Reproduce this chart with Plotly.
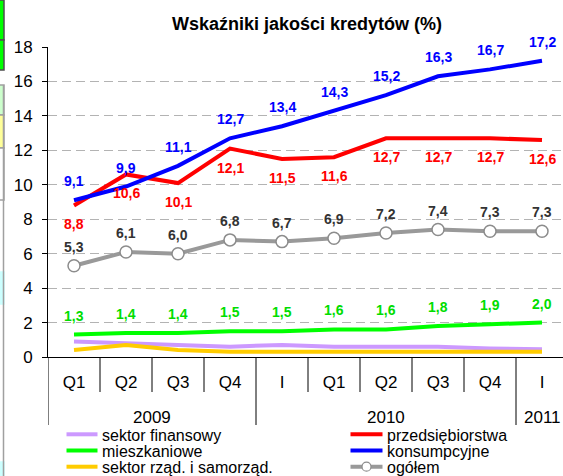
import plotly.graph_objects as go

# ---- data -------------------------------------------------------------
periods = ["Q1", "Q2", "Q3", "Q4", "I", "Q1", "Q2", "Q3", "Q4", "I"]
years = ["2009", "2010", "2011"]
year_spans = [(0, 3), (4, 8), (9, 9)]          # first / last period index of each year

sektor_finansowy = [0.9, 0.8, 0.65, 0.6, 0.7, 0.6, 0.6, 0.6, 0.5, 0.45]
przedsiebiorstwa = [8.8, 10.6, 10.1, 12.1, 11.5, 11.6, 12.7, 12.7, 12.7, 12.6]
mieszkaniowe = [1.3, 1.4, 1.4, 1.5, 1.5, 1.6, 1.6, 1.8, 1.9, 2.0]
konsumpcyjne = [9.1, 9.9, 11.1, 12.7, 13.4, 14.3, 15.2, 16.3, 16.7, 17.2]
sektor_rzadowy = [0.4, 0.7, 0.4, 0.3, 0.3, 0.3, 0.35, 0.35, 0.3, 0.3]
ogolem = [5.3, 6.1, 6.0, 6.8, 6.7, 6.9, 7.2, 7.4, 7.3, 7.3]

y_ticks = list(range(0, 19, 2))

# ---- geometry ---------------------------------------------------------
W, H = 563, 476
ML, MR, MT, MB = 48, 0, 47, 119
PW, PH = W - ML - MR, H - MT - MB
CAT_PX = 52.0                                  # pixel width of one period
x_pos = list(range(len(periods)))
x_range = [-0.5, -0.5 + PW / CAT_PX]


def px_x(p):
    return (p - ML) / PW


def px_y(p):
    return (H - MB - p) / PH


FONT = "Arial, Liberation Sans, sans-serif"

fig = go.Figure()

series = [
    ("sektor finansowy", sektor_finansowy, "#CC99FF", None),
    ("sektor rząd. i samorząd.", sektor_rzadowy, "#FFCC00", None),
    ("mieszkaniowe", mieszkaniowe, "#00FF00", "#00DD00"),
    ("ogółem", ogolem, "#999999", "#333333"),
    ("przedsiębiorstwa", przedsiebiorstwa, "#FF0000", "#FF0000"),
    ("konsumpcyjne", konsumpcyjne, "#0000FF", "#0000FF"),
]

for name, vals, color, _ in series:
    is_total = name == "ogółem"
    fig.add_trace(go.Scatter(
        x=x_pos, y=vals, name=name,
        mode="lines+markers" if is_total else "lines",
        line=dict(color=color, width=4),
        marker=dict(symbol="circle", size=12, color="white",
                    line=dict(color="#8c8c8c", width=1.5)),
        showlegend=False, hoverinfo="skip",
    ))

# value labels
annotations = []
for name, vals, color, label_color in series:
    if label_color is None:
        continue
    shift = -19 if name == "przedsiębiorstwa" else 19
    for xi, v in zip(x_pos, vals):
        annotations.append(dict(
            x=xi, y=v, xref="x", yref="y", yshift=shift,
            text=f"{v:.1f}".replace(".", ","), showarrow=False,
            xanchor="center", yanchor="middle",
            font=dict(family=FONT, size=14, color=label_color, weight="bold"),
        ))

# year labels under the period labels
for yr, (a, b) in zip(years, year_spans):
    annotations.append(dict(
        x=(a + b) / 2, y=px_y(417), xref="x", yref="paper",
        text=yr, showarrow=False, xanchor="center", yanchor="middle",
        font=dict(family=FONT, size=17, color="black"),
    ))

shapes = []
# period separators; longer ones between years
year_edges = {a - 0.5 for a, _ in year_spans}
for k in range(len(periods)):
    edge = k - 0.5
    bottom = 425 if edge in year_edges else 392
    shapes.append(dict(type="line", xref="x", yref="paper",
                       x0=edge, x1=edge, y0=0, y1=px_y(bottom),
                       line=dict(color="black", width=1)))

# legend drawn by hand (two columns, tight rows)
legend_rows = [
    ("sektor finansowy", "#CC99FF", 0, 0, False),
    ("mieszkaniowe", "#00FF00", 0, 1, False),
    ("sektor rząd. i samorząd.", "#FFCC00", 0, 2, False),
    ("przedsiębiorstwa", "#FF0000", 1, 0, False),
    ("konsumpcyjne", "#0000FF", 1, 1, False),
    ("ogółem", "#999999", 1, 2, True),
]
col_x = [(66.5, 97.5, 99.5), (350.5, 382.5, 384.5)]
row_y = [434.3, 450.5, 466.7]
for label, color, c, r, marker in legend_rows:
    x0, x1, xt = col_x[c]
    yy = row_y[r]
    shapes.append(dict(type="line", xref="paper", yref="paper",
                       x0=px_x(x0), x1=px_x(x1), y0=px_y(yy), y1=px_y(yy),
                       line=dict(color=color, width=4)))
    if marker:
        cx = (x0 + x1) / 2
        shapes.append(dict(type="circle", xref="paper", yref="paper",
                           x0=px_x(cx - 4.5), x1=px_x(cx + 4.5),
                           y0=px_y(yy + 4.5), y1=px_y(yy - 4.5),
                           fillcolor="white",
                           line=dict(color="#8c8c8c", width=1.2)))
    annotations.append(dict(
        x=px_x(xt), y=px_y(yy + 1), xref="paper", yref="paper",
        text=label, showarrow=False, xanchor="left", yanchor="middle",
        font=dict(family=FONT, size=16, color="black"),
    ))

# slide frame fragments along the left edge
edge_boxes = [
    (0, 40, "#00FF00", "#4d4d4d"),
    (40, 70, "#00FF00", "#4d4d4d"),
    (85, 115, "#CCFFCC", "#a0a0a0"),
    (115, 148, "#FFFF99", "#a0a0a0"),
    (148, 200, "white", "#a0a0a0"),
    (272, 304, "#CCFFFF", None),
    (462, 476, "#CCFFFF", None),
]
for top, bot, fill, border in edge_boxes:
    shapes.append(dict(type="rect", xref="paper", yref="paper",
                       x0=px_x(-2), x1=px_x(4), y0=px_y(bot), y1=px_y(top),
                       fillcolor=fill,
                       line=dict(color=border or fill, width=1.5),
                       layer="below"))
shapes.append(dict(type="line", xref="paper", yref="paper",
                   x0=px_x(3.5), x1=px_x(3.5), y0=px_y(85), y1=px_y(476),
                   line=dict(color="#a0a0a0", width=1.5)))

fig.update_layout(
    width=W, height=H,
    margin=dict(l=ML, r=MR, t=MT, b=MB, pad=0),
    paper_bgcolor="white", plot_bgcolor="white",
    font=dict(family=FONT, color="black"),
    title=dict(
        text="Wskaźniki jakości kredytów (%)",
        font=dict(family=FONT, size=18, color="black", weight="bold"),
        x=307 / W, xref="container", xanchor="center",
        y=1 - 24 / H, yref="container", yanchor="middle",
    ),
    xaxis=dict(
        range=x_range, tickmode="array", tickvals=x_pos, ticktext=periods,
        showgrid=False, zeroline=False,
        showline=True, linecolor="black", linewidth=1,
        ticks="", ticklabelstandoff=10,
        tickfont=dict(family=FONT, size=17, color="black"),
        fixedrange=True,
    ),
    yaxis=dict(
        range=[0, 18], tickmode="array", tickvals=y_ticks,
        showgrid=True, gridcolor="#b3b3b3", gridwidth=1, griddash="9px,5px",
        zeroline=False, showline=True, linecolor="black", linewidth=1,
        ticks="outside", ticklen=5, tickcolor="black", ticklabelstandoff=6,
        tickfont=dict(family=FONT, size=17, color="black"),
        fixedrange=True,
    ),
    annotations=annotations,
    shapes=shapes,
    showlegend=False,
)

fig.write_html("out.html")
